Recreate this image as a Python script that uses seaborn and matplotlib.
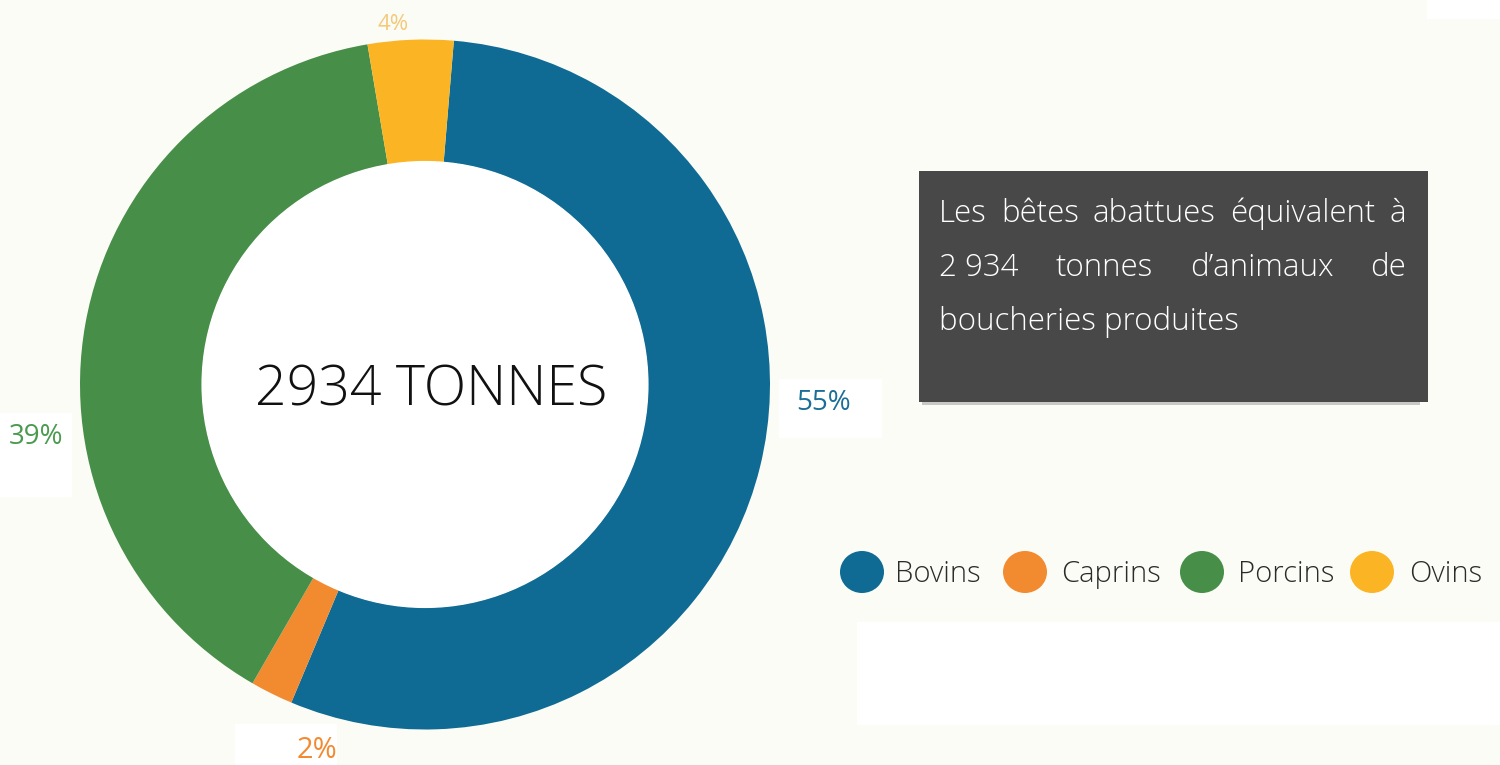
import matplotlib
matplotlib.use("Agg")
import matplotlib.pyplot as plt
from matplotlib.patches import Rectangle, Ellipse, Circle
import seaborn as sns

# Tonnage share by livestock category (%)
categories = ["Bovins", "Caprins", "Porcins", "Ovins"]
shares = [55, 2, 39, 4]
colors = ["#0f6b94", "#f28a30", "#478f48", "#fbb524"]
label_colors = ["#1a6e97", "#f28a30", "#4b9a4f", "#f3c97a"]
total_label = "2934 TONNES"
note_lines = ["Les bêtes abattues équivalent à",
              "2 934 tonnes d’animaux de",
              "boucheries produites"]

sns.set_theme(style="white")
plt.rcParams["font.family"] = ["Open Sans", "DejaVu Sans"]

W, H = 1500, 765
BG = "#fcfcf7"
fig = plt.figure(figsize=(W / 100, H / 100), dpi=100, facecolor=BG)

# full-figure overlay in pixel coordinates
ov = fig.add_axes([0, 0, 1, 1], zorder=1)
ov.set_xlim(0, W)
ov.set_ylim(H, 0)
ov.axis("off")
ov.patch.set_alpha(0)

# donut
cx, cy, R = 425, 384.5, 345
pax = fig.add_axes([(cx - R) / W, (H - cy - R) / H, 2 * R / W, 2 * R / H], zorder=2)
wedges, _ = pax.pie(shares, colors=colors, startangle=85.2, counterclock=False,
                    radius=1.0, wedgeprops=dict(width=0.354, linewidth=0))
pax.add_patch(Circle((0, 0), 0.646, color="white", zorder=3))
pax.set_xlim(-1, 1)
pax.set_ylim(-1, 1)
pax.set_aspect("equal")
pax.axis("off")

# centre total
txt = fig.add_axes([0, 0, 1, 1], zorder=4)
txt.set_xlim(0, W)
txt.set_ylim(H, 0)
txt.axis("off")
txt.patch.set_alpha(0)
txt.text(431, 391, total_label, ha="center", va="center", fontsize=40,
         fontweight="light", color="#111111")

# percentage labels on white tags
tags = {"Bovins": (779, 379, 103, 59), "Caprins": (235, 724, 102, 41),
        "Porcins": (0, 413, 72, 84)}
for name, (x, y, w, h) in tags.items():
    ov.add_patch(Rectangle((x, y), w, h, facecolor="white", edgecolor="none"))
label_pos = {"Bovins": (823, 403, 20), "Caprins": (317, 751, 21),
             "Porcins": (36, 437, 20), "Ovins": (393, 24, 16)}
for name, val, col in zip(categories, shares, label_colors):
    x, y, fs = label_pos[name]
    ov.text(x, y, f"{val}%", ha="center", va="center", fontsize=fs, color=col)

# white strips on the right side
ov.add_patch(Rectangle((1427, 0), 73, 19, facecolor="white", edgecolor="none"))
ov.add_patch(Rectangle((857, 622), 643, 103, facecolor="white", edgecolor="none"))

# note box
ov.add_patch(Rectangle((922, 402), 498, 3, facecolor="#c8c8c4", edgecolor="none"))
ov.add_patch(Rectangle((919, 171), 509, 231, facecolor="#484848", edgecolor="none"))

fig.canvas.draw()
renderer = fig.canvas.get_renderer()
left, right = 939, 1406
baselines = [222, 276, 330]
word_rows = [note_lines[0].split(" "),
             ["2 934", "tonnes", "d’animaux", "de"],
             [note_lines[2]]]
for words, yb in zip(word_rows, baselines):
    arts = [ov.text(0, yb, w_, ha="left", va="baseline", fontsize=22.5,
                    fontweight="light", color="white") for w_ in words]
    widths = [a.get_window_extent(renderer=renderer).width for a in arts]
    gap = (right - left - sum(widths)) / (len(arts) - 1) if len(arts) > 1 else 0
    x = left
    for a, wdt in zip(arts, widths):
        a.set_x(x)
        x += wdt + gap

# legend
leg_y = 572
leg_items = [(862, 895), (1025, 1061), (1202, 1238), (1372, 1409)]
for (mx, tx), name, col in zip(leg_items, categories, colors):
    ov.add_patch(Ellipse((mx, leg_y), 44, 42, facecolor=col, edgecolor="none"))
    ov.text(tx, leg_y + 2, name, ha="left", va="center", fontsize=21,
            fontweight="light", color="#2b2b2b")

fig.savefig("out.png", dpi=100, facecolor=BG)
